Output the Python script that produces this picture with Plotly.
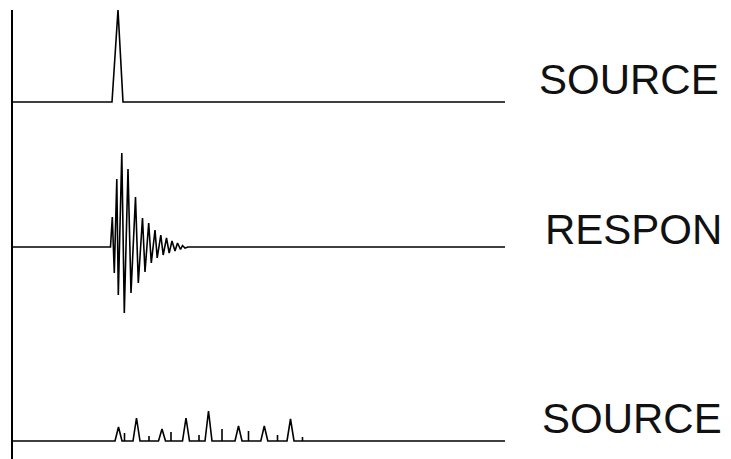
"""
Seismogram-style sketch: a source pulse, the system response, and a
sequence of source pulses, each drawn on its own baseline.
"""

import plotly.graph_objects as go

# --- data (time in samples, amplitude in arbitrary units) ---
t_end = 493

# single source pulse
pulse_t = [0, 100, 106, 111, t_end]
pulse_a = [0, 0, 0.92, 0, 0]

# damped response, peaks and troughs
resp_t = [0, 98.5, 100.3, 102.3, 104.8, 106.3, 109.8, 112.3, 116.0, 119.0,
          123.5, 126.3, 130.5, 133.0, 136.7, 139.3, 143.0, 145.2, 148.8,
          151.2, 154.5, 157.2, 160.0, 163.0, 165.5, 168.5, 170.5, 173.0,
          176.0, t_end]
resp_a = [0, 0, 0.30, -0.26, 0.68, -0.48, 0.94, -0.66, 0.78, -0.46,
          0.50, -0.36, 0.29, -0.25, 0.24, -0.16, 0.17, -0.11, 0.12,
          -0.08, 0.09, -0.06, 0.06, -0.04, 0.04, -0.025, 0.015, -0.01,
          0, 0]

# train of source pulses: (centre, height) for peaks and for thin spikes
peaks_t = [106.5, 124.5, 150.0, 174.0, 196.5, 226.5, 252.3, 278.5]
peaks_a = [0.14, 0.23, 0.12, 0.23, 0.30, 0.15, 0.15, 0.22]
spikes_t = [112.5, 137.0, 159.0, 187.0, 210.0, 236.5, 265.5, 290.5]
spikes_a = [0.08, 0.05, 0.09, 0.06, 0.12, 0.10, 0.06, 0.04]

labels = ['SOURCE', 'RESPON', 'SOURCE']

# build the pulse-train polyline from the peak / spike lists
half = 3.5
events = sorted([(t, a, 'peak') for t, a in zip(peaks_t, peaks_a)] +
                [(t, a, 'spike') for t, a in zip(spikes_t, spikes_a)])
train_t, train_a = [0], [0]
for t, a, kind in events:
    if kind == 'peak':
        train_t += [t - half, t, t + half]
    else:
        train_t += [t, t, t]
    train_a += [0, a, 0]
train_t.append(t_end)
train_a.append(0)

line = dict(color='black', width=1.6)

fig = go.Figure()
fig.add_trace(go.Scatter(x=pulse_t, y=pulse_a, mode='lines', line=line, yaxis='y'))
fig.add_trace(go.Scatter(x=resp_t, y=resp_a, mode='lines', line=line, yaxis='y2'))
fig.add_trace(go.Scatter(x=train_t, y=train_a, mode='lines', line=line, yaxis='y3'))

# page body has an 8px margin, so the figure is 8px smaller each way
W, H = 723, 451
axis_off = dict(visible=False, showgrid=False, zeroline=False, fixedrange=True)

# each row gets its own overlaid y axis, 100 px per unit
fig.update_layout(
    width=W, height=H,
    margin=dict(l=0, r=0, t=0, b=0),
    paper_bgcolor='white', plot_bgcolor='white',
    showlegend=False,
    xaxis=dict(range=[-4, W - 4], **axis_off),
    yaxis=dict(range=[0.94 - H / 100, 0.94], **axis_off),
    yaxis2=dict(range=[2.39 - H / 100, 2.39], overlaying='y', **axis_off),
    yaxis3=dict(range=[4.33 - H / 100, 4.33], overlaying='y', **axis_off),
)

# left vertical rule
fig.add_shape(type='line', xref='x', yref='paper', x0=0, x1=0,
              y0=0, y1=1 - 2 / H, line=dict(color='black', width=2))

label_pos = [(620.5, 71), (625.5, 221), (623.5, 410)]
for text, (px, py) in zip(labels, label_pos):
    fig.add_annotation(text=text, xref='paper', yref='paper',
                       x=px / W, y=1 - py / H, xanchor='center', yanchor='middle',
                       showarrow=False,
                       font=dict(family='Liberation Sans, Arial', size=42, color='#111'))

fig.write_html("out.html")
